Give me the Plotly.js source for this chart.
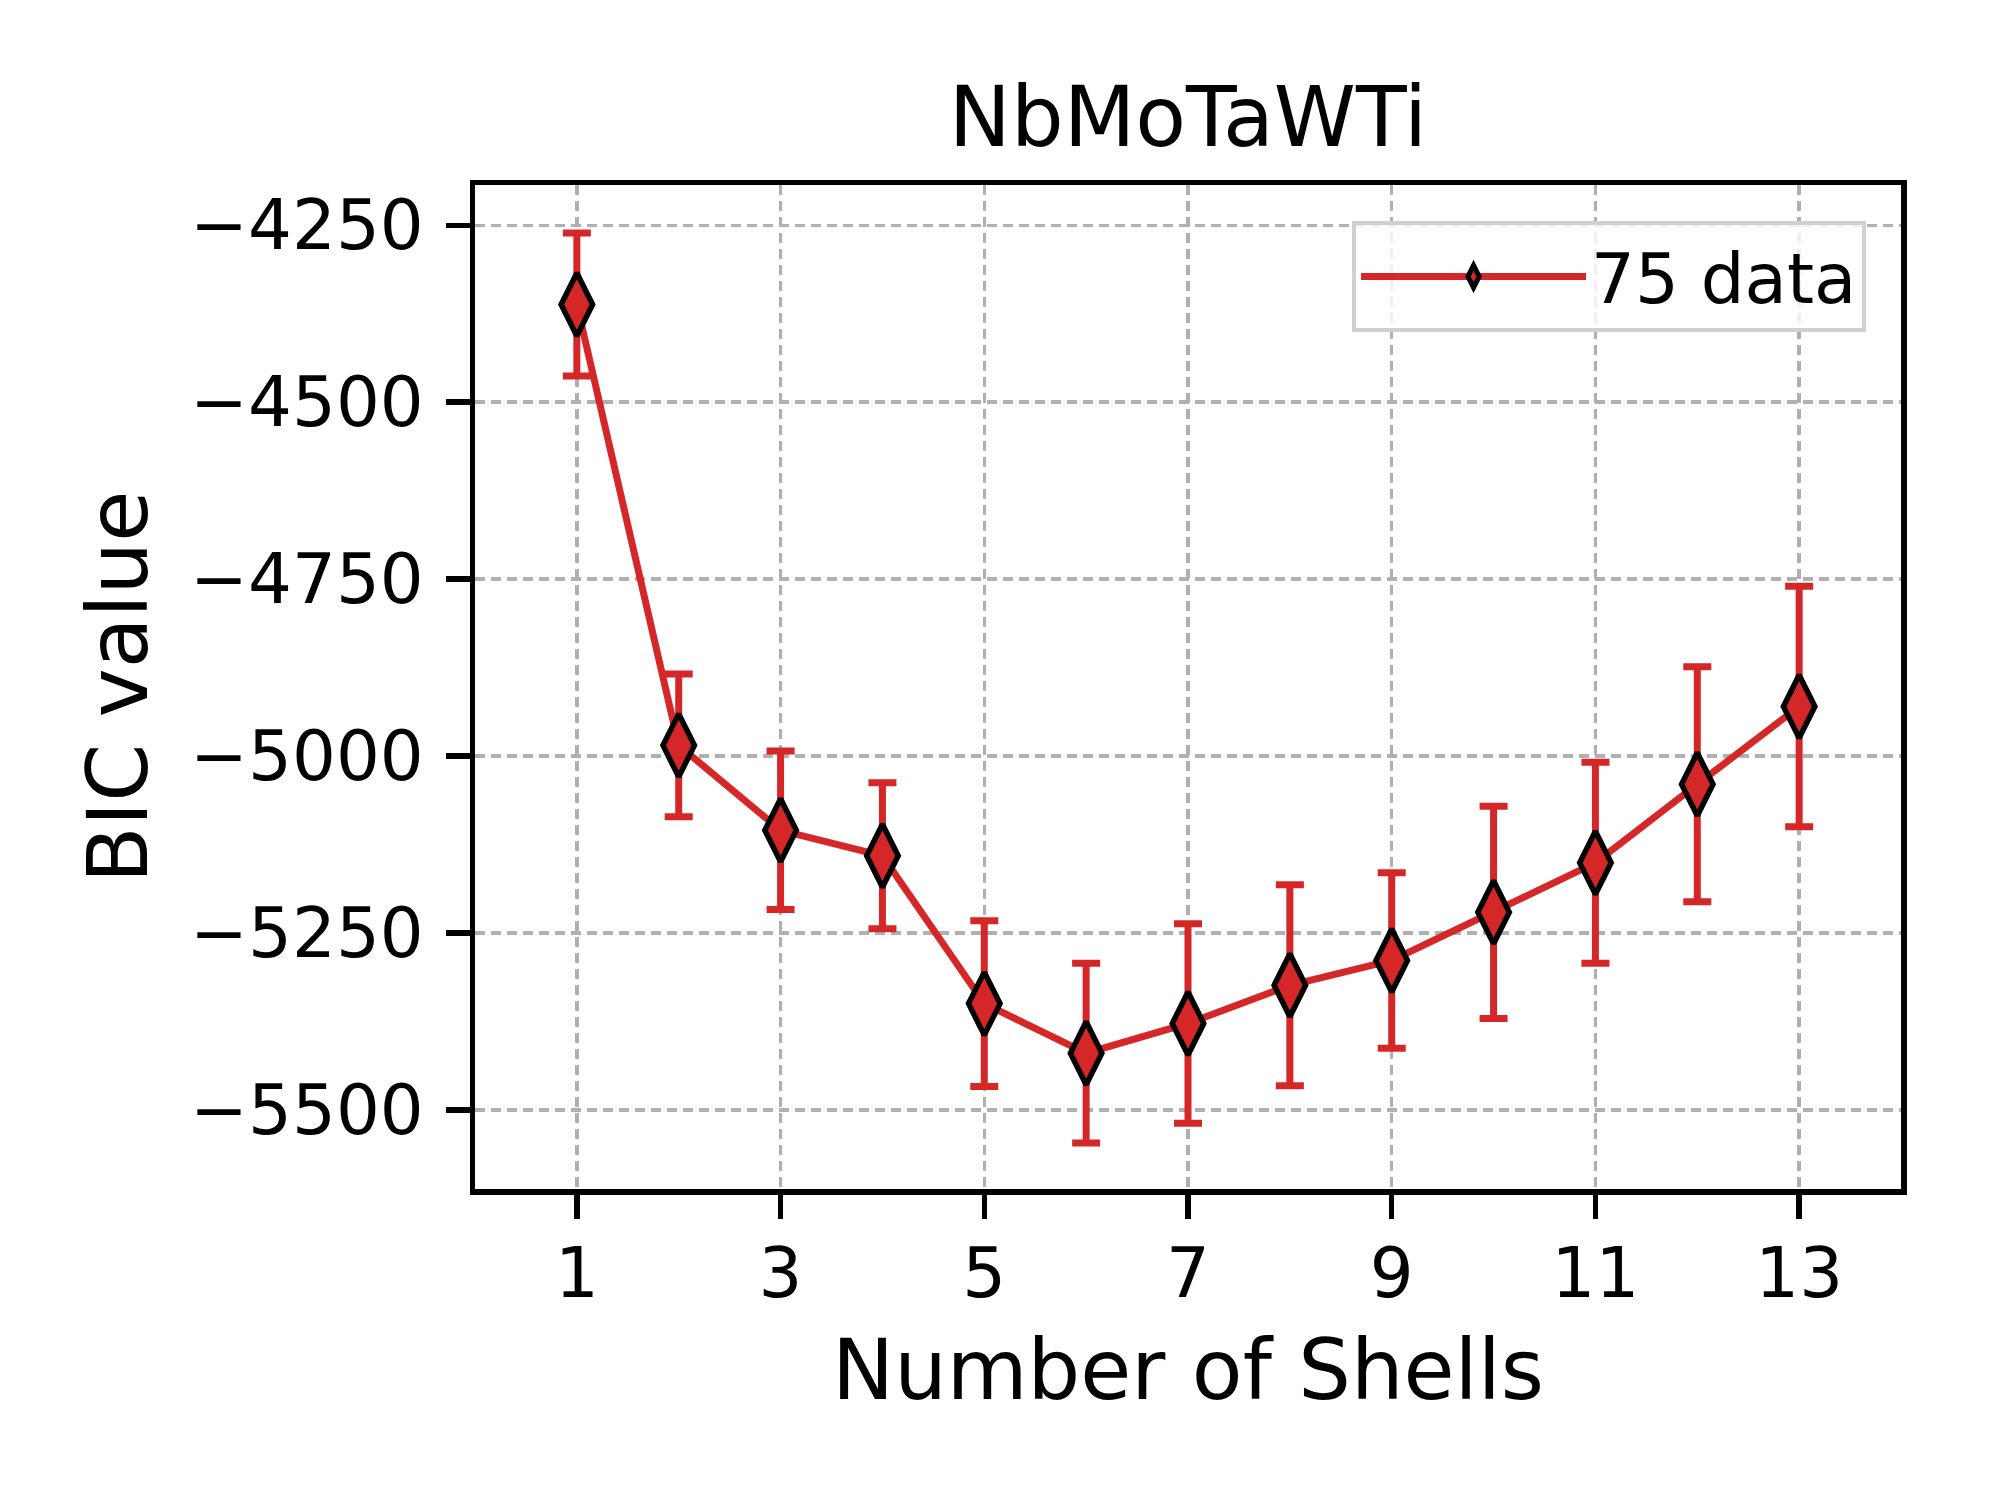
<!DOCTYPE html>
<html>
<head>
<meta charset="utf-8">
<script src="https://cdn.plot.ly/plotly-3.0.1.min.js"></script>
<style>
  body { margin: 0; background: #fff; }
  #chart { width: 2000px; height: 1500px; }
</style>
</head>
<body>
<div id="chart"></div>
<script>
// BIC vs number of shells
const shells = [1, 2, 3, 4, 5, 6, 7, 8, 9, 10, 11, 12, 13];
const bicValues = [-4362, -4985, -5105, -5141, -5350, -5420, -5378, -5324, -5289, -5221, -5151, -5040, -4930];
const bicErrors = [101, 101, 112, 103, 117, 127, 141, 142, 124, 150, 142, 166, 170];
const xTicks = [1, 3, 5, 7, 9, 11, 13];
const yTicks = [-5500, -5250, -5000, -4750, -4500, -4250];
const seriesName = '75 data';

const red = '#d62728';
const font = 'DejaVu Sans';

Plotly.newPlot('chart', [{
  x: shells,
  y: bicValues,
  name: seriesName,
  type: 'scatter',
  mode: 'lines+markers',
  line: { color: red, width: 7 },
  marker: {
    symbol: 'diamond-tall',
    size: 45,
    color: red,
    line: { color: 'black', width: 5.5 }
  },
  error_y: {
    type: 'data',
    array: bicErrors,
    visible: true,
    color: red,
    thickness: 7,
    width: 14
  }
}], {
  width: 2000,
  height: 1500,
  margin: { l: 475, r: 99, t: 185, b: 311 },
  paper_bgcolor: 'white',
  plot_bgcolor: 'white',
  font: { family: font, color: 'black', size: 69 },
  title: {
    text: 'NbMoTaWTi',
    font: { family: font, size: 83, color: 'black' },
    x: 0.5, xref: 'paper', xanchor: 'center',
    y: 1 - 117 / 1500, yref: 'container', yanchor: 'middle'
  },
  xaxis: {
    range: [0, 14],
    tickmode: 'array',
    tickvals: xTicks,
    ticks: 'outside', ticklen: 24, tickwidth: 5.5, tickcolor: 'black',
    ticklabelstandoff: -4,
    tickfont: { family: font, size: 69 },
    showline: true, linecolor: 'black', linewidth: 5.5, mirror: true,
    showgrid: true, gridcolor: '#b0b0b0', gridwidth: 3.5, griddash: '10px,6px',
    zeroline: false,
    title: { text: 'Number of Shells', font: { family: font, size: 83 }, standoff: 30 }
  },
  yaxis: {
    range: [-5612, -4193],
    tickmode: 'array',
    tickvals: yTicks,
    ticks: 'outside', ticklen: 24, tickwidth: 5.5, tickcolor: 'black',
    ticklabelstandoff: 8,
    tickfont: { family: font, size: 69 },
    showline: true, linecolor: 'black', linewidth: 5.5, mirror: true,
    showgrid: true, gridcolor: '#b0b0b0', gridwidth: 3.5, griddash: '10px,6px',
    zeroline: false,
    title: { text: 'BIC value', font: { family: font, size: 83 }, standoff: 17 }
  },
  showlegend: true,
  legend: {
    x: 0.9755, xanchor: 'right',
    y: 0.964, yanchor: 'top',
    bgcolor: 'rgba(255,255,255,0.8)',
    bordercolor: '#d0d0d0', borderwidth: 4,
    font: { family: font, size: 69 },
    itemwidth: 225
  }
}, { displayModeBar: false, staticPlot: true });
</script>
</body>
</html>
